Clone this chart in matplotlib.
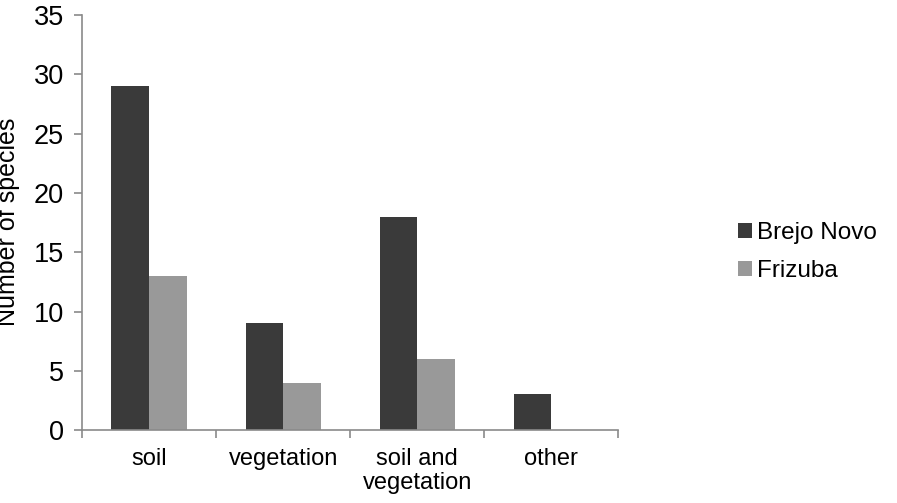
import matplotlib
matplotlib.use("Agg")
import matplotlib.pyplot as plt
import numpy as np

categories = ["soil", "vegetation", "soil and\nvegetation", "other"]
brejo_novo = [29, 9, 18, 3]
frizuba = [13, 4, 6, 0]
series_names = ["Brejo Novo", "Frizuba"]

plt.rcParams['font.family'] = ['Liberation Sans', 'DejaVu Sans']

fig = plt.figure(figsize=(8.97, 5.03), dpi=100)
ax = fig.add_axes([0.0914, 0.145, 0.598, 0.825])

x = np.arange(len(categories))
w = 0.28
ax.bar(x - w / 2, brejo_novo, w, color="#3a3a3a", label=series_names[0])
ax.bar(x + w / 2, frizuba, w, color="#999999", label=series_names[1])

ax.set_xlim(-0.5, len(categories) - 0.5)
ax.set_ylim(0, 35)
ax.set_yticks(range(0, 36, 5))
ax.set_xticks(x)
ax.set_xticklabels(categories, fontsize=17, linespacing=1.1)
ax.set_xticks(np.arange(-0.5, len(categories), 1), minor=True)
ax.tick_params(axis="x", which="major", length=0, pad=13)
ax.tick_params(axis="x", which="minor", length=6, color="#8a8a8a", width=1.2)
ax.tick_params(axis="y", length=6, color="#8a8a8a", width=1.2, labelsize=19.5, pad=7)

for s in ["top", "right"]:
    ax.spines[s].set_visible(False)
for s in ["left", "bottom"]:
    ax.spines[s].set_color("#8a8a8a")
    ax.spines[s].set_linewidth(1.2)

# the reference crops this label at the left edge
fig.text(0.022, 0.559, "Number of species", rotation=90, ha="right", va="center", fontsize=18)

fig.legend(loc="center left", bbox_to_anchor=(0.798, 0.499), frameon=False,
           fontsize=17.5, handlelength=0.6, handleheight=0.6, handletextpad=0.2,
           labelspacing=0.65)

fig.savefig("out.png", dpi=100)
